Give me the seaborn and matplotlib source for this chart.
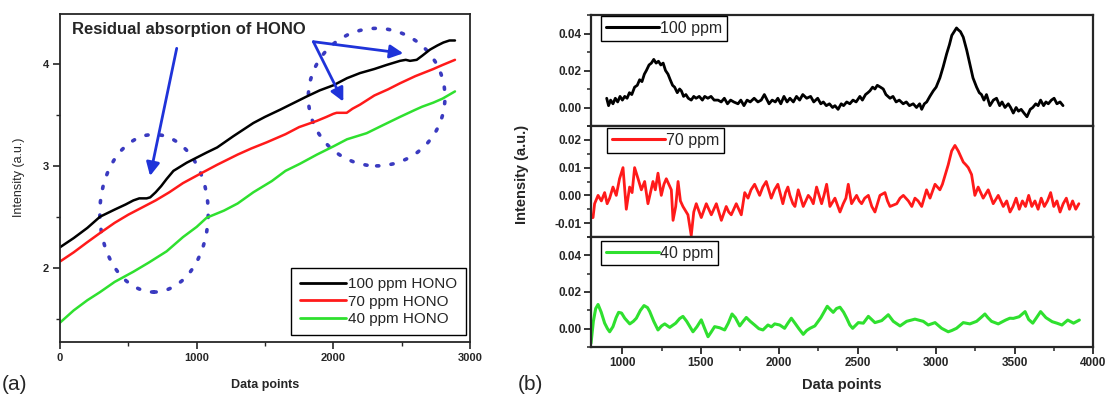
import numpy as np
import pandas as pd
import matplotlib
matplotlib.use("Agg")
import matplotlib.pyplot as plt
from matplotlib.patches import Ellipse
from matplotlib.ticker import MultipleLocator, FormatStrFormatter
import seaborn as sns

# ---------------- data: panel (a) ----------------
a_labels = ["100 ppm HONO", "70 ppm HONO", "40 ppm HONO"]
a_x_100 = [0, 100, 200, 293, 400, 480, 537, 580, 634, 660, 700, 740, 780, 830, 927, 1000, 1073, 1150,
           1268, 1415, 1500, 1610, 1700, 1805, 1900, 2000, 2100, 2195, 2300, 2390, 2488, 2530, 2561,
           2610, 2650, 2707, 2760, 2805, 2850, 2890]
a_y_100 = [2.20, 2.29, 2.39, 2.50, 2.57, 2.62, 2.66, 2.68, 2.68, 2.69, 2.74, 2.80, 2.87, 2.95, 3.03, 3.08,
           3.13, 3.18, 3.29, 3.42, 3.48, 3.55, 3.61, 3.68, 3.74, 3.79, 3.86, 3.91, 3.95, 3.99, 4.03, 4.04,
           4.03, 4.04, 4.08, 4.14, 4.18, 4.21, 4.23, 4.23]
a_x_70 = [0, 100, 200, 293, 400, 500, 600, 700, 800, 900, 1024, 1150, 1300, 1400, 1512, 1650, 1750, 1878,
          1950, 2000, 2024, 2060, 2098, 2140, 2195, 2300, 2400, 2488, 2600, 2732, 2800, 2890]
a_y_70 = [2.06, 2.15, 2.25, 2.34, 2.44, 2.52, 2.59, 2.66, 2.74, 2.83, 2.92, 3.01, 3.11, 3.17, 3.23, 3.31,
          3.38, 3.44, 3.48, 3.51, 3.52, 3.52, 3.52, 3.56, 3.60, 3.69, 3.75, 3.81, 3.88, 3.95, 3.99, 4.04]
a_x_40 = [0, 100, 200, 293, 400, 537, 650, 780, 900, 1000, 1073, 1200, 1300, 1415, 1550, 1650, 1756, 1880,
          2000, 2100, 2244, 2350, 2488, 2600, 2650, 2732, 2800, 2890]
a_y_40 = [1.46, 1.58, 1.68, 1.76, 1.86, 1.96, 2.05, 2.16, 2.30, 2.40, 2.49, 2.56, 2.63, 2.74, 2.85, 2.95,
          3.02, 3.11, 3.19, 3.26, 3.32, 3.39, 3.48, 3.55, 3.58, 3.62, 3.66, 3.73]

# ---------------- data: panel (b) ----------------
b_labels = ["100 ppm", "70 ppm", "40 ppm"]
b_x_100 = [900, 912, 925, 940, 955, 970, 985, 1000, 1015, 1030, 1045, 1060, 1078, 1095, 1110, 1125, 1140,
           1153, 1170, 1185, 1200, 1215, 1230, 1245, 1260, 1275, 1291, 1305, 1320, 1333, 1350, 1365, 1376,
           1390, 1405, 1420, 1439, 1455, 1470, 1490, 1510, 1525, 1545, 1565, 1585, 1610, 1630, 1650, 1670,
           1690, 1710, 1737, 1755, 1775, 1795, 1815, 1840, 1864, 1885, 1905, 1917, 1935, 1955, 1975, 1991,
           2010, 2030, 2050, 2068, 2090, 2110, 2130, 2150, 2175, 2200, 2220, 2245, 2265, 2281, 2300, 2320,
           2340, 2355, 2375, 2395, 2410, 2430, 2450, 2470, 2490, 2514, 2530, 2550, 2565, 2578, 2595, 2610,
           2625, 2645, 2663, 2680, 2706, 2725, 2745, 2765, 2790, 2810, 2830, 2854, 2875, 2895, 2908, 2925,
           2940, 2960, 2982, 3000, 3024, 3045, 3067, 3085, 3100, 3115, 3130, 3141, 3155, 3173, 3195, 3216,
           3235, 3258, 3275, 3289, 3305, 3321, 3343, 3365, 3385, 3405, 3420, 3439, 3460, 3475, 3492, 3510,
           3525, 3542, 3560, 3579, 3600, 3616, 3635, 3650, 3666, 3685, 3700, 3715, 3735, 3752, 3770, 3790,
           3809]
b_y_100 = [0.005, 0.001, 0.004, 0.002, 0.005, 0.003, 0.006, 0.004, 0.006, 0.005, 0.008, 0.007, 0.011, 0.012,
           0.015, 0.014, 0.018, 0.020, 0.023, 0.024, 0.026, 0.024, 0.025, 0.023, 0.024, 0.020, 0.018, 0.015,
           0.012, 0.011, 0.008, 0.010, 0.009, 0.006, 0.007, 0.005, 0.004, 0.006, 0.005, 0.006, 0.004, 0.006,
           0.005, 0.006, 0.004, 0.004, 0.003, 0.005, 0.002, 0.004, 0.003, 0.002, 0.004, 0.001, 0.004, 0.003,
           0.005, 0.003, 0.004, 0.007, 0.005, 0.002, 0.004, 0.003, 0.005, 0.002, 0.006, 0.003, 0.005, 0.003,
           0.006, 0.004, 0.007, 0.005, 0.006, 0.003, 0.005, 0.002, 0.003, 0.001, 0.002, 0.000, 0.001, -0.001,
           0.002, 0.001, 0.003, 0.002, 0.004, 0.003, 0.006, 0.004, 0.007, 0.008, 0.009, 0.011, 0.010, 0.012,
           0.011, 0.010, 0.007, 0.005, 0.006, 0.003, 0.004, 0.002, 0.003, 0.001, 0.002, 0.000, 0.002, -0.001,
           0.002, 0.003, 0.006, 0.009, 0.011, 0.016, 0.022, 0.029, 0.034, 0.039, 0.041, 0.043, 0.042, 0.041,
           0.038, 0.031, 0.023, 0.016, 0.011, 0.008, 0.007, 0.004, 0.007, 0.001, 0.004, 0.005, 0.001, 0.003,
           0.000, 0.002, 0.000, -0.003, 0.000, -0.002, -0.001, -0.003, -0.005, -0.001, 0.000, 0.002, 0.001,
           0.004, 0.001, 0.003, 0.002, 0.004, 0.005, 0.002, 0.003, 0.001]

b_x_70 = [800, 813, 823, 845, 866, 887, 903, 919, 940, 961, 982, 1004, 1025, 1046, 1062, 1078, 1100, 1121,
          1142, 1163, 1195, 1210, 1227, 1248, 1265, 1280, 1312, 1323, 1340, 1355, 1370, 1386, 1418, 1439,
          1455, 1471, 1503, 1535, 1551, 1567, 1599, 1615, 1631, 1662, 1678, 1694, 1726, 1742, 1758, 1780,
          1801, 1820, 1843, 1875, 1895, 1917, 1949, 1970, 1991, 2023, 2040, 2055, 2068, 2087, 2100, 2121,
          2153, 2185, 2200, 2217, 2238, 2270, 2285, 2302, 2323, 2355, 2387, 2408, 2425, 2440, 2461, 2493,
          2510, 2525, 2545, 2568, 2590, 2610, 2642, 2674, 2690, 2706, 2749, 2770, 2791, 2823, 2845, 2865,
          2885, 2908, 2939, 2961, 2993, 3024, 3040, 3056, 3077, 3099, 3120, 3141, 3173, 3190, 3205, 3226,
          3247, 3268, 3300, 3332, 3364, 3396, 3428, 3450, 3471, 3490, 3510, 3530, 3550, 3570, 3590, 3610,
          3630, 3650, 3670, 3690, 3710, 3730, 3750, 3770, 3790, 3810, 3830, 3850, 3870, 3890, 3910]
b_y_70 = [-0.008, -0.008, -0.003, -0.000, -0.002, 0.001, -0.003, -0.001, 0.003, 0.000, 0.006, 0.010, -0.005,
          0.003, 0.001, 0.010, 0.006, 0.002, 0.005, -0.003, 0.005, 0.002, 0.008, 0.000, 0.004, 0.006, 0.002,
          -0.009, -0.004, 0.005, -0.002, -0.004, -0.007, -0.0145, -0.006, -0.003, -0.008, -0.003, -0.005,
          -0.007, -0.003, -0.006, -0.009, -0.004, -0.006, -0.007, -0.003, -0.005, -0.007, 0.001, -0.001,
          0.002, 0.004, 0.000, 0.003, 0.005, -0.001, 0.002, 0.004, -0.003, 0.001, 0.003, 0.000, -0.003,
          -0.004, 0.002, -0.004, 0.000, -0.001, -0.003, 0.003, -0.003, 0.000, 0.004, -0.004, -0.001, -0.006,
          -0.003, -0.001, 0.004, -0.003, 0.000, -0.002, -0.003, -0.001, 0.000, -0.004, -0.006, 0.000, 0.001,
          -0.002, -0.004, -0.003, -0.001, 0.000, -0.002, -0.004, -0.001, -0.002, -0.004, 0.002, -0.001, 0.004,
          0.002, 0.004, 0.007, 0.011, 0.016, 0.018, 0.016, 0.012, 0.011, 0.010, 0.0075, 0.000, 0.003, -0.001,
          0.002, -0.003, 0.000, -0.004, -0.002, -0.006, -0.004, -0.001, -0.005, -0.002, -0.004, 0.000, -0.004,
          -0.002, -0.005, -0.001, -0.004, -0.002, 0.001, -0.004, -0.002, -0.006, -0.003, -0.001, -0.005,
          -0.002, -0.005, -0.003]

b_x_40 = [800, 815, 830, 845, 865, 887, 905, 919, 940, 960, 976, 995, 1015, 1047, 1070, 1089, 1115, 1138,
          1160, 1174, 1200, 1227, 1250, 1270, 1302, 1340, 1365, 1386, 1410, 1450, 1475, 1503, 1525, 1546,
          1565, 1588, 1620, 1652, 1675, 1699, 1720, 1748, 1770, 1790, 1815, 1843, 1870, 1896, 1928, 1950,
          1971, 2003, 2034, 2055, 2077, 2100, 2125, 2153, 2175, 2196, 2227, 2265, 2306, 2325, 2344, 2365,
          2387, 2410, 2430, 2450, 2468, 2504, 2536, 2568, 2610, 2653, 2695, 2727, 2770, 2812, 2865, 2918,
          2950, 2993, 3035, 3077, 3100, 3130, 3173, 3215, 3258, 3285, 3311, 3330, 3353, 3396, 3443, 3470,
          3492, 3529, 3567, 3590, 3616, 3640, 3666, 3700, 3740, 3770, 3802, 3839, 3876, 3913]
b_y_40 = [-0.008, 0.004, 0.011, 0.0132, 0.009, 0.003, 0.000, -0.0017, 0.0011, 0.006, 0.0089, 0.0085, 0.0057,
          0.0026, 0.004, 0.0057, 0.010, 0.0126, 0.0115, 0.0094, 0.004, -0.0007, 0.0015, 0.0026, 0.0007,
          0.003, 0.0055, 0.0067, 0.004, -0.0017, 0.001, 0.0048, 0.000, -0.0044, -0.002, 0.0011, 0.0005,
          -0.0007, 0.003, 0.008, 0.006, 0.0015, 0.004, 0.0061, 0.004, 0.0020, 0.000, -0.0007, 0.002, 0.001,
          0.0026, 0.002, 0.0002, 0.003, 0.0057, 0.0030, 0.000, -0.0031, -0.001, 0.0002, 0.0015, 0.006, 0.0122,
          0.0105, 0.0089, 0.011, 0.0117, 0.009, 0.0057, 0.002, 0.0002, 0.0033, 0.0030, 0.0067, 0.0033, 0.0044,
          0.0076, 0.004, 0.0015, 0.004, 0.0052, 0.004, 0.002, 0.0033, 0.0002, -0.0017, -0.001, 0.0002, 0.0033,
          0.0026, 0.004, 0.006, 0.008, 0.006, 0.004, 0.0026, 0.0047, 0.0057, 0.0056, 0.0065, 0.0093, 0.005,
          0.003, 0.006, 0.0093, 0.006, 0.0038, 0.003, 0.002, 0.0047, 0.003, 0.0047]

colors = ["#000000", "#ff1a1a", "#2fe02f"]
blue = "#1f33d9"
dot_blue = "#3a3ac0"

# ---------------- style ----------------
sns.set_style("ticks")
plt.rcParams["font.family"] = ["Liberation Sans", "DejaVu Sans"]
plt.rcParams["axes.linewidth"] = 1.3

fig = plt.figure(figsize=(11.1, 4.01), dpi=100)

# ---------------- panel (a) ----------------
ax = fig.add_axes([60 / 1110, 1 - 342 / 401, 410 / 1110, 328 / 401])
df_a = pd.concat([
    pd.DataFrame({"x": a_x_100, "y": a_y_100, "series": a_labels[0]}),
    pd.DataFrame({"x": a_x_70, "y": a_y_70, "series": a_labels[1]}),
    pd.DataFrame({"x": a_x_40, "y": a_y_40, "series": a_labels[2]}),
])
sns.lineplot(data=df_a, x="x", y="y", hue="series", hue_order=a_labels,
             palette=dict(zip(a_labels, colors)), estimator=None, sort=False,
             linewidth=1.8, ax=ax)
ax.set_xlim(0, 3000)
ax.set_ylim(1.27, 4.49)
ax.xaxis.set_major_locator(MultipleLocator(1000))
ax.xaxis.set_minor_locator(MultipleLocator(500))
ax.yaxis.set_major_locator(MultipleLocator(1))
ax.yaxis.set_minor_locator(MultipleLocator(0.5))
ax.tick_params(which="major", direction="out", length=5, width=1.2, labelsize=8, pad=3)
ax.tick_params(which="minor", direction="out", length=3, width=1.0)
for lab in ax.get_xticklabels() + ax.get_yticklabels():
    lab.set_fontweight("bold")
ax.set_xlabel("Data points", fontsize=9, fontweight="bold", va="center")
ax.xaxis.set_label_coords(0.5, -0.131)
ax.set_ylabel("Intensity (a.u.)", fontsize=9, va="center")
ax.yaxis.set_label_coords(-0.1, 0.503)
for s in ax.spines.values():
    s.set_visible(True)

leg = ax.legend(loc="lower right", bbox_to_anchor=(0.99, 0.021), borderaxespad=0,
                fontsize=11, frameon=True, fancybox=False, framealpha=1,
                edgecolor="black", handlelength=3.0, handletextpad=0.1,
                labelspacing=0.22, borderpad=0.6)
leg.get_frame().set_linewidth(1.0)
for h in leg.get_lines():
    h.set_linewidth(2.0)

# annotations
ax.text(88, 4.34, "Residual absorption of HONO", fontsize=12, fontweight="bold",
        ha="left", va="center")
arrow_kw = dict(arrowstyle="-|>", color=blue, lw=2.0, mutation_scale=20, shrinkA=0, shrinkB=0)
ax.annotate("", xy=(659, 2.90), xytext=(854, 4.153), arrowprops=arrow_kw)
ax.annotate("", xy=(2512, 4.104), xytext=(1854, 4.218), arrowprops=arrow_kw)
ax.annotate("", xy=(2073, 3.63), xytext=(1854, 4.218), arrowprops=arrow_kw)
for (cx, cy, w, h) in [(688, 2.534, 793, 1.547), (2317, 3.674, 1000, 1.35)]:
    e = Ellipse((cx, cy), w, h, fill=False, edgecolor=dot_blue, lw=2.6,
                linestyle=(0, (0.6, 3.4)))
    e.set_capstyle("round")
    ax.add_patch(e)

# ---------------- panel (b) ----------------
left_b = 591 / 1110
width_b = 502 / 1110
tops = [15, 126, 237]
h_px = 111
b_sets = [(b_x_100, b_y_100, (-0.01, 0.05), [0.0, 0.02, 0.04], 0.01, (0.02, 0.99)),
          (b_x_70, b_y_70, (-0.015, 0.025), [-0.01, 0.0, 0.01, 0.02], 0.005, (0.032, 0.98)),
          (b_x_40, b_y_40, (-0.01, 0.05), [0.0, 0.02, 0.04], 0.01, (0.02, 0.965))]
axes_b = []
for i, (xs, ys, ylim, yt, ymin, lpos) in enumerate(b_sets):
    top = tops[i]
    hh = h_px if i < 2 else 110
    axb = fig.add_axes([left_b, 1 - (top + hh) / 401, width_b, hh / 401])
    dfb = pd.DataFrame({"x": xs, "y": ys})
    sns.lineplot(data=dfb, x="x", y="y", color=colors[i], linewidth=2.0 if i < 2 else 2.2,
                 estimator=None, sort=False, label=b_labels[i], ax=axb)
    axb.set_xlim(800, 4000)
    axb.set_ylim(*ylim)
    axb.set_yticks(yt)
    axb.yaxis.set_minor_locator(MultipleLocator(ymin))
    axb.yaxis.set_major_formatter(FormatStrFormatter("%.2f"))
    axb.xaxis.set_major_locator(MultipleLocator(500))
    axb.xaxis.set_minor_locator(MultipleLocator(250))
    axb.tick_params(which="major", direction="out", length=5, width=1.3, labelsize=8.5, pad=2)
    axb.tick_params(which="minor", direction="out", length=3, width=1.1)
    axb.set_xlabel("")
    axb.set_ylabel("")
    for s in axb.spines.values():
        s.set_visible(True)
        s.set_linewidth(1.6)
    if i < 2:
        axb.tick_params(axis="x", which="both", bottom=False, labelbottom=False)
    else:
        axb.set_xticks([1000, 1500, 2000, 2500, 3000, 3500, 4000])
    for lab in axb.get_xticklabels() + axb.get_yticklabels():
        lab.set_fontweight("bold")
    lg = axb.legend(loc="upper left", bbox_to_anchor=lpos, borderaxespad=0,
                    fontsize=11.5, frameon=True, fancybox=False, framealpha=1,
                    edgecolor="black", handlelength=3.3, handletextpad=0.1, borderpad=0.3)
    lg.get_frame().set_linewidth(1.0)
    for h in lg.get_lines():
        h.set_linewidth(2.2)
    axes_b.append(axb)

axes_b[2].set_xlabel("Data points", fontsize=10.5, fontweight="bold", va="center")
axes_b[2].xaxis.set_label_coords(0.5, -0.35)

fig.text(522 / 1110, 1 - 174 / 401, "Intensity (a.u.)", rotation=90, fontsize=10.5,
         fontweight="bold", ha="center", va="center")
fig.text(2 / 1110, 1 - 385 / 401, "(a)", fontsize=15, ha="left", va="center")
fig.text(518 / 1110, 1 - 385 / 401, "(b)", fontsize=15, ha="left", va="center")

fig.savefig("out.png", dpi=100)
